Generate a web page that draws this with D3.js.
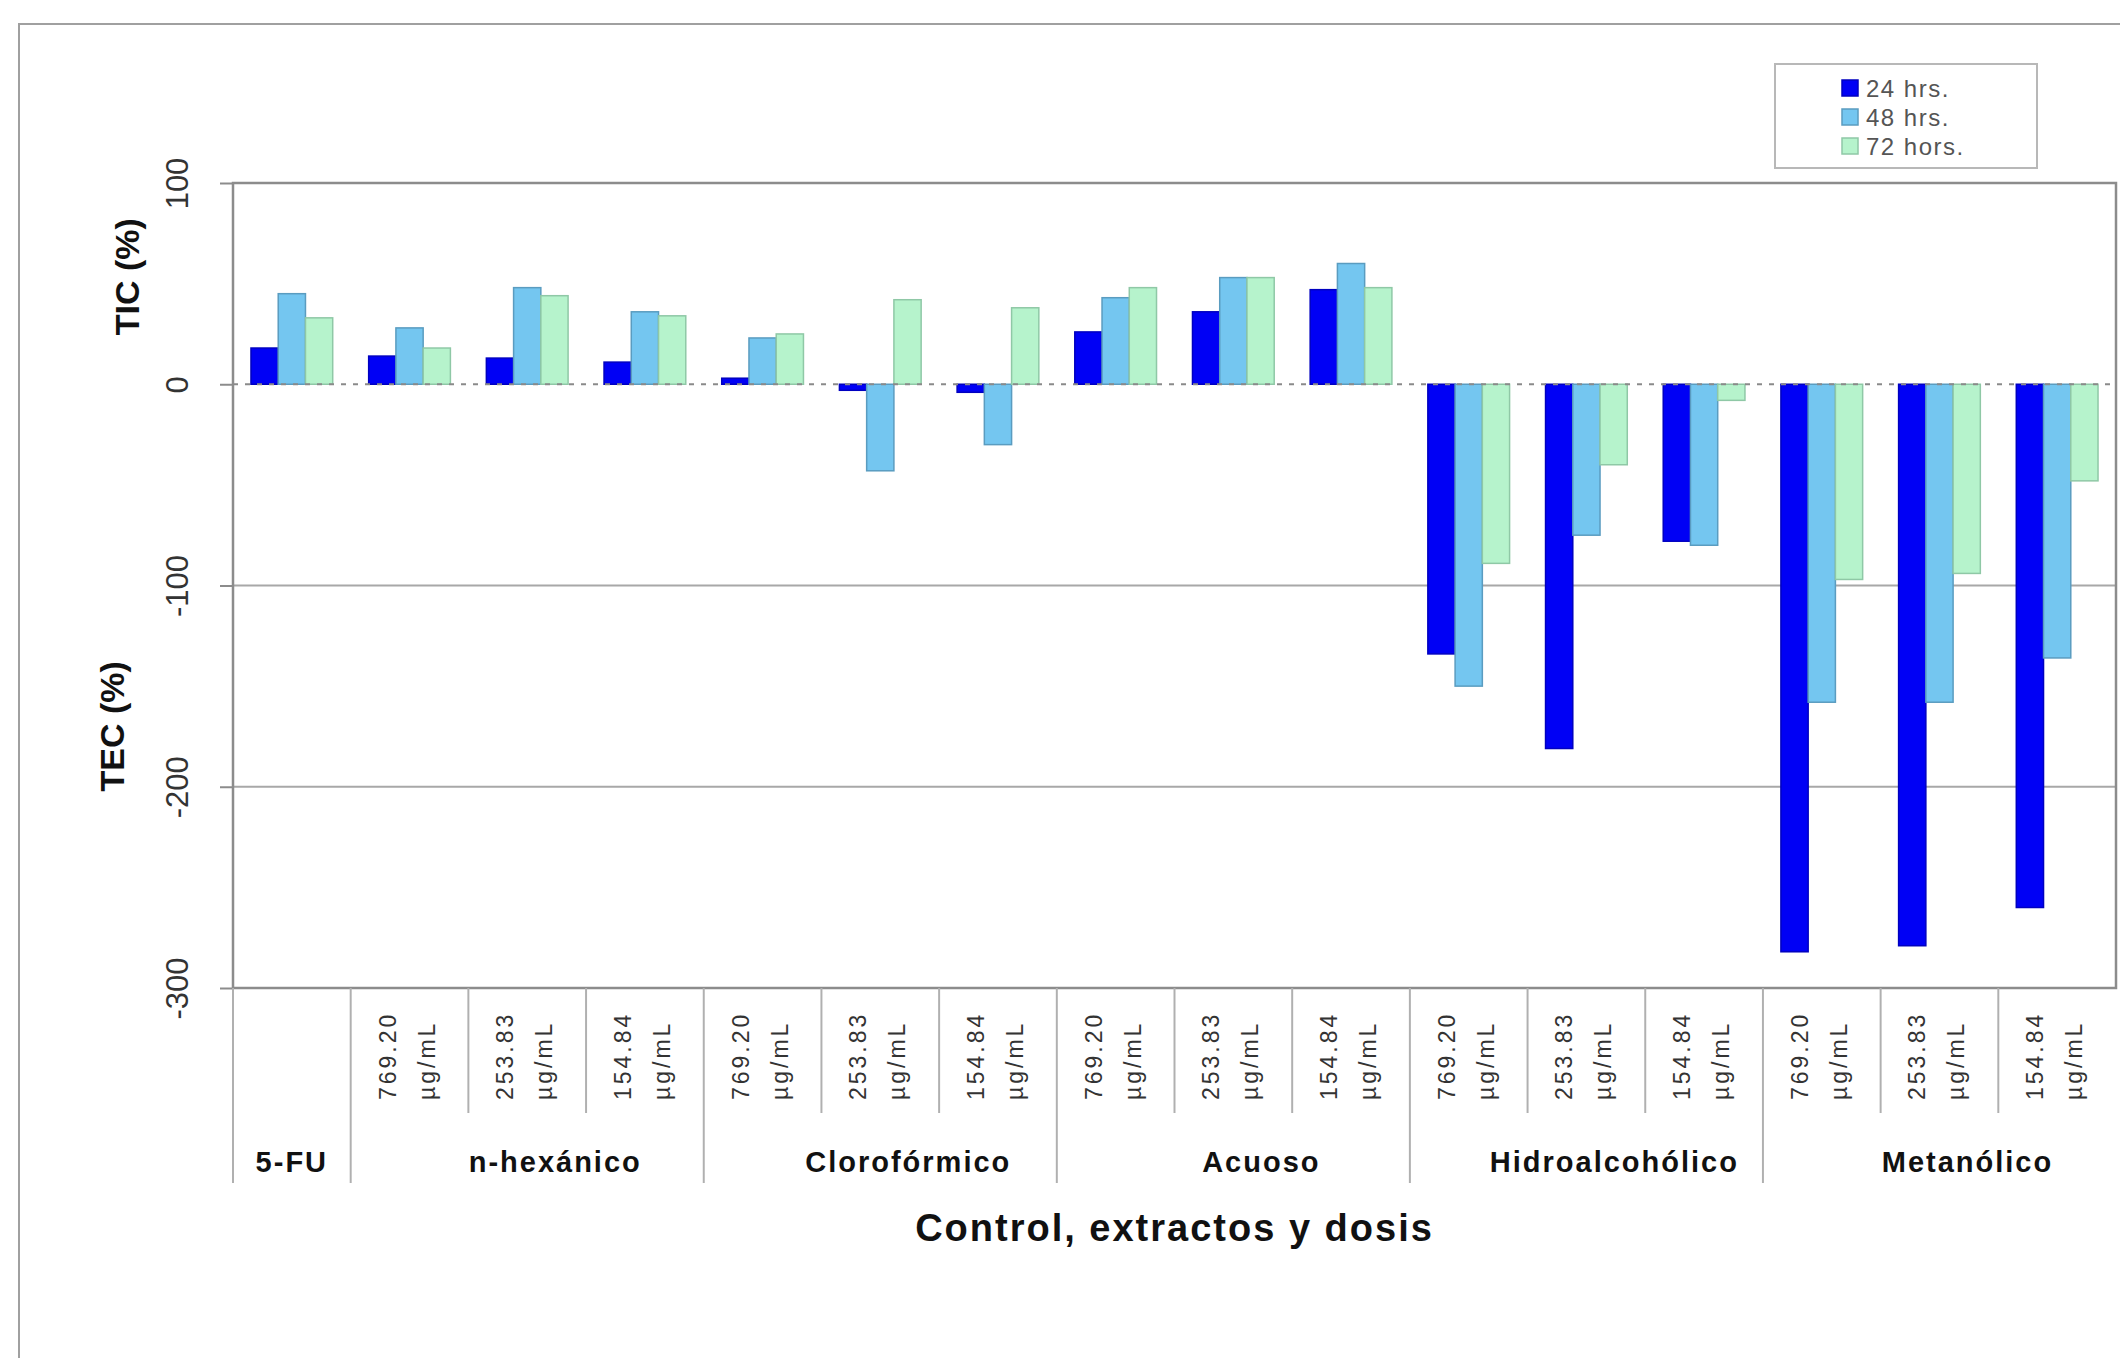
<!DOCTYPE html>
<html>
<head>
<meta charset="utf-8">
<script src="https://cdn.jsdelivr.net/npm/d3@7"></script>
<style>
  body { margin: 0; background: #fff; }
  svg { display: block; }
  text { font-family: "Liberation Sans", Arial, sans-serif; }
</style>
</head>
<body>
<svg></svg>
<script>
// control + extract groups, each dose is its own category
let catGroup = ["5-FU",
  "n-hexánico", "n-hexánico", "n-hexánico",
  "Clorofórmico", "Clorofórmico", "Clorofórmico",
  "Acuoso", "Acuoso", "Acuoso",
  "Hidroalcohólico", "Hidroalcohólico", "Hidroalcohólico",
  "Metanólico", "Metanólico", "Metanólico"];
let catDose = ["",
  "769.20", "253.83", "154.84",
  "769.20", "253.83", "154.84",
  "769.20", "253.83", "154.84",
  "769.20", "253.83", "154.84",
  "769.20", "253.83", "154.84"];
let doseUnit = "µg/mL";

let seriesNames = ["24 hrs.", "48 hrs.", "72 hors."];
let h24 = [18, 14, 13, 11, 3, -3, -4, 26, 36, 47, -134, -181, -78, -282, -279, -260];
let h48 = [45, 28, 48, 36, 23, -43, -30, 43, 53, 60, -150, -75, -80, -158, -158, -136];
let h72 = [33, 18, 44, 34, 25, 42, 38, 48, 53, 48, -89, -40, -8, -97, -94, -48];

let yTicks = [100, 0, -100, -200, -300];

let W = 2120, H = 1358;
let svg = d3.select("svg").attr("width", W).attr("height", H);

let m = { left: 233, right: 2116, top: 183, bottom: 988 };
let colors = ["#0000f5", "#74c6f0", "#b6f3cc"];
let strokes = ["#0000c0", "#5a9cc0", "#8fc8a6"];

// outer chart border
svg.append("rect")
  .attr("x", 19).attr("y", 24).attr("width", W + 20).attr("height", H + 20)
  .attr("fill", "none").attr("stroke", "#a0a0a0").attr("stroke-width", 2);

let cats = d3.range(catGroup.length);
let x0 = d3.scaleBand().domain(cats).range([m.left, m.right]).padding(0);
let x1 = d3.scaleBand().domain(d3.range(3)).range([0, x0.bandwidth()])
  .paddingInner(0).paddingOuter(0.66);
let y = d3.scaleLinear().domain([-300, 100]).range([m.bottom, m.top]);

// gridlines
svg.append("g").selectAll("line")
  .data(yTicks.filter(d => d < 0 && d > -300))
  .join("line")
  .attr("x1", m.left).attr("x2", m.right)
  .attr("y1", d => y(d)).attr("y2", d => y(d))
  .attr("stroke", "#a8a8a8").attr("stroke-width", 2);

// bars
let rows = cats.map(i => [h24[i], h48[i], h72[i]]);
svg.append("g").selectAll("g")
  .data(rows)
  .join("g")
  .attr("transform", (_, i) => `translate(${x0(i)},0)`)
  .selectAll("rect")
  .data(d => d)
  .join("rect")
  .attr("x", (_, j) => x1(j))
  .attr("width", x1.bandwidth())
  .attr("y", d => y(Math.max(0, d)))
  .attr("height", d => Math.abs(y(d) - y(0)))
  .attr("fill", (_, j) => colors[j])
  .attr("stroke", (_, j) => strokes[j])
  .attr("stroke-width", 1.5);

// zero line
svg.append("line")
  .attr("x1", m.left).attr("x2", m.right)
  .attr("y1", y(0)).attr("y2", y(0))
  .attr("stroke", "#8a8a8a").attr("stroke-width", 2)
  .attr("stroke-dasharray", "5,7");

// plot frame
svg.append("rect")
  .attr("x", m.left).attr("y", m.top)
  .attr("width", m.right - m.left).attr("height", m.bottom - m.top)
  .attr("fill", "none").attr("stroke", "#8c8c8c").attr("stroke-width", 2.5);

// y axis with rotated labels (plain hyphen for negatives)
let yAxis = svg.append("g")
  .attr("transform", `translate(${m.left},0)`)
  .call(d3.axisLeft(y).tickValues(yTicks).tickSize(13).tickFormat(d => String(d)));
yAxis.select(".domain").remove();
yAxis.selectAll("line").attr("stroke", "#8c8c8c").attr("stroke-width", 2);
yAxis.selectAll("text")
  .attr("x", null).attr("dy", null)
  .attr("transform", "translate(-56,0) rotate(-90)")
  .attr("text-anchor", "middle")
  .attr("dominant-baseline", "central")
  .attr("font-size", 31)
  .attr("fill", "#333");

// y titles
svg.append("text")
  .attr("transform", `translate(127,${y(50) - 7}) rotate(-90)`)
  .attr("text-anchor", "middle").attr("dominant-baseline", "central")
  .attr("font-size", 34).attr("font-weight", "bold").attr("fill", "#111")
  .text("TIC (%)");
svg.append("text")
  .attr("transform", `translate(112,${y(-170)}) rotate(-90)`)
  .attr("text-anchor", "middle").attr("dominant-baseline", "central")
  .attr("font-size", 34).attr("font-weight", "bold").attr("fill", "#111")
  .text("TEC (%)");

// category separators under plot
let shortEnd = 1113, longEnd = 1183;
let boundaries = cats.map(i => ({
  x: x0(i),
  long: i == 0 || catGroup[i] != catGroup[i - 1],
}));
svg.append("g").selectAll("line")
  .data(boundaries)
  .join("line")
  .attr("x1", d => d.x).attr("x2", d => d.x)
  .attr("y1", m.bottom).attr("y2", d => (d.long ? longEnd : shortEnd))
  .attr("stroke", "#b0b0b0").attr("stroke-width", 2);

// dose labels, two rotated lines each
let doseG = svg.append("g").selectAll("g")
  .data(cats.filter(i => catDose[i] != ""))
  .join("g")
  .attr("transform", i => `translate(${x0(i) + x0.bandwidth() / 2},1100)`);
doseG.append("text")
  .attr("transform", "translate(-22,0) rotate(-90)")
  .attr("dominant-baseline", "central")
  .attr("font-size", 23).attr("letter-spacing", 3).attr("fill", "#333")
  .text(i => catDose[i]);
doseG.append("text")
  .attr("transform", "translate(17,0) rotate(-90)")
  .attr("dominant-baseline", "central")
  .attr("font-size", 23).attr("letter-spacing", 3).attr("fill", "#333")
  .text(doseUnit);

// group labels
let groups = d3.groups(cats, i => catGroup[i]);
svg.append("g").selectAll("text")
  .data(groups)
  .join("text")
  .attr("x", d => {
    let first = d[1][0], last = d[1][d[1].length - 1];
    let cx = (x0(first) + x0(last) + x0.bandwidth()) / 2;
    return d[1].length > 1 ? cx + 28 : cx;
  })
  .attr("y", 1162)
  .attr("text-anchor", "middle").attr("dominant-baseline", "central")
  .attr("font-size", 29).attr("font-weight", "bold")
  .attr("letter-spacing", 2).attr("fill", "#111")
  .text(d => d[0]);

// x title
svg.append("text")
  .attr("x", (m.left + m.right) / 2).attr("y", 1228)
  .attr("text-anchor", "middle").attr("dominant-baseline", "central")
  .attr("font-size", 38).attr("font-weight", "bold")
  .attr("letter-spacing", 2).attr("fill", "#111")
  .text("Control, extractos y dosis");

// legend
let lg = svg.append("g");
lg.append("rect")
  .attr("x", 1775).attr("y", 64).attr("width", 262).attr("height", 104)
  .attr("fill", "#fff").attr("stroke", "#b8b8b8").attr("stroke-width", 2);
let items = lg.selectAll("g")
  .data(seriesNames)
  .join("g")
  .attr("transform", (_, i) => `translate(1842,${88 + i * 29})`);
items.append("rect")
  .attr("x", 0).attr("y", -8).attr("width", 16).attr("height", 16)
  .attr("fill", (_, i) => colors[i])
  .attr("stroke", (_, i) => strokes[i]).attr("stroke-width", 1.5);
items.append("text")
  .attr("x", 24).attr("dominant-baseline", "central")
  .attr("font-size", 24).attr("letter-spacing", 1.5).attr("fill", "#555")
  .text(d => d);
</script>
</body>
</html>
